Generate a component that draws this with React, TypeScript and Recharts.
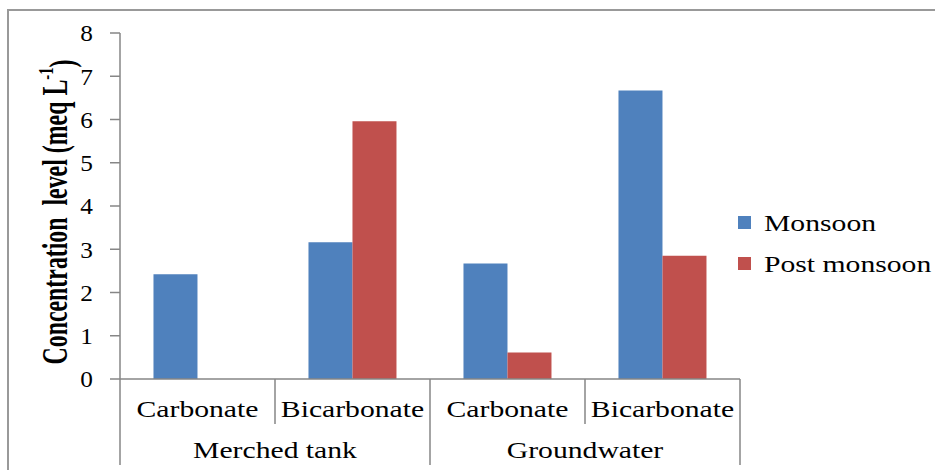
import React from 'react';
import { BarChart, Bar, XAxis, YAxis, Legend } from 'recharts';

// Sampling sites (outer axis level) and ions (inner axis level)
const sites = ['Merched tank', 'Merched tank', 'Groundwater', 'Groundwater'];
const ions = ['Carbonate', 'Bicarbonate', 'Carbonate', 'Bicarbonate'];

// Concentration, meq L-1
const monsoon = [2.42, 3.16, 2.67, 6.67];
const postMonsoon = [0, 5.96, 0.61, 2.85];

const yTicks = [0, 1, 2, 3, 4, 5, 6, 7, 8];

const data = ions.map((ion, i) => ({
  ion,
  site: sites[i],
  monsoon: monsoon[i],
  postMonsoon: postMonsoon[i],
}));

const FONT = '"Liberation Serif", "Times New Roman", serif';
const AXIS = '#868686';
const BLUE = '#4F81BD';
const RED = '#C0504D';
const STRETCH = 1.29;
const LABEL_SIZE = 23;

const YTick = (props: any) => {
  const { x, y, payload } = props;
  return (
    <text
      transform={`translate(${x},${y}) scale(1.1,1)`}
      textAnchor="end"
      dy="0.36em"
      fontFamily={FONT}
      fontSize={23}
      fill="#000"
    >
      {payload.value}
    </text>
  );
};

// Inner level: ion names with separators at band edges
const IonTick = (props: any) => {
  const { x, y, payload, index, visibleTicksCount } = props;
  const half = payload.offset ?? 0;
  const last = index === visibleTicksCount - 1;
  return (
    <g>
      <line x1={x - half} x2={x - half} y1={y} y2={y + 45} stroke={AXIS} strokeWidth={1.5} />
      {last && <line x1={x + half} x2={x + half} y1={y} y2={y + 45} stroke={AXIS} strokeWidth={1.5} />}
      <text
        transform={`translate(${x},${y + 38}) scale(${STRETCH},1)`}
        textAnchor="middle"
        fontFamily={FONT}
        fontSize={LABEL_SIZE}
        fill="#000"
      >
        {payload.value}
      </text>
    </g>
  );
};

// Outer level: site names
const SiteTick = (props: any) => {
  const { x, y, payload, index, visibleTicksCount } = props;
  const half = payload.offset ?? 0;
  const last = index === visibleTicksCount - 1;
  return (
    <g>
      <line x1={x - half} x2={x - half} y1={y} y2={y + 41} stroke={AXIS} strokeWidth={1.5} />
      {last && <line x1={x + half} x2={x + half} y1={y} y2={y + 41} stroke={AXIS} strokeWidth={1.5} />}
      <text
        transform={`translate(${x},${y + 34}) scale(${STRETCH},1)`}
        textAnchor="middle"
        fontFamily={FONT}
        fontSize={LABEL_SIZE}
        fill="#000"
      >
        {payload.value}
      </text>
    </g>
  );
};

const YTitle = (props: any) => {
  const vb = props.viewBox || { x: 0, y: 33, width: 120, height: 346 };
  const cx = vb.x + 55;
  const cy = vb.y + vb.height / 2 + 6;
  return (
    <text
      transform={`translate(${cx},${cy}) rotate(-90) scale(1,1.35)`}
      textAnchor="middle"
      dominantBaseline="central"
      fontFamily={FONT}
      fontWeight="bold"
      fontSize={26}
      textLength={305}
      lengthAdjust="spacingAndGlyphs"
      fill="#000"
      style={{ whiteSpace: 'pre' }}
    >
      Concentration  level (meq L
      <tspan dy="-0.45em" fontSize={16}>-1</tspan>
      <tspan dy="0.45em">)</tspan>
    </text>
  );
};

const LegendBox = (props: any) => {
  const items = props.payload || [];
  return (
    <svg width={200} height={90} style={{ display: 'block' }}>
      {items.map((e: any, i: number) => (
        <g key={e.value} transform={`translate(0,${i * 41})`}>
          <rect x={3} y={16} width={13} height={13} fill={e.color} />
          <text
            transform={`translate(29,31) scale(${STRETCH},1)`}
            fontFamily={FONT}
            fontSize={LABEL_SIZE}
            fill="#000"
          >
            {e.value}
          </text>
        </g>
      ))}
    </svg>
  );
};

export default function App() {
  return (
    <div style={{ position: 'absolute', left: 0, top: 0, width: 935, height: 470, background: '#fff', overflow: 'hidden' }}>
      <div
        style={{
          position: 'absolute',
          left: 7,
          top: 9,
          right: -4,
          bottom: -4,
          borderTop: '2px solid #999',
          borderLeft: '2px solid #999',
        }}
      />
      <BarChart
        width={935}
        height={470}
        data={data}
        margin={{ top: 33, right: 195, bottom: 5, left: 0 }}
        barCategoryGap="21.6%"
        barGap={0}
        style={{ position: 'absolute', left: 0, top: 0 }}
      >
        <XAxis
          dataKey="ion"
          interval={0}
          height={45}
          tickSize={0}
          tickMargin={0}
          tickLine={false}
          axisLine={{ stroke: AXIS, strokeWidth: 1.5 }}
          tick={<IonTick />}
        />
        <XAxis
          xAxisId="site"
          dataKey="site"
          allowDuplicatedCategory={false}
          interval={0}
          height={41}
          tickSize={0}
          tickMargin={0}
          tickLine={false}
          axisLine={false}
          tick={<SiteTick />}
        />
        <YAxis
          domain={[0, 8]}
          ticks={yTicks}
          width={120}
          tickSize={10}
          tickMargin={17}
          axisLine={{ stroke: AXIS, strokeWidth: 1.5 }}
          tickLine={{ stroke: AXIS, strokeWidth: 1.5 }}
          tick={<YTick />}
          label={(p: any) => <YTitle {...p} />}
        />
        <Legend
          layout="vertical"
          align="center"
          verticalAlign="middle"
          content={<LegendBox />}
          wrapperStyle={{ left: 735, top: 200, width: 200, height: 90 }}
        />
        <Bar dataKey="monsoon" name="Monsoon" fill={BLUE} isAnimationActive={false} />
        <Bar dataKey="postMonsoon" name="Post monsoon" fill={RED} isAnimationActive={false} />
      </BarChart>
    </div>
  );
}
